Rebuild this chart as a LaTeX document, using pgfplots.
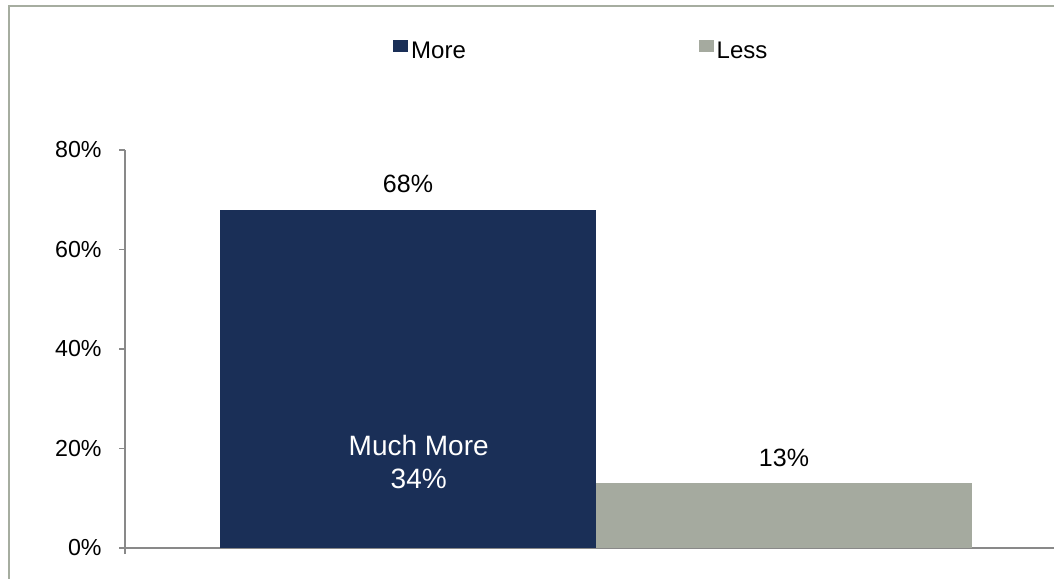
\documentclass[border=0pt]{standalone}
\usepackage{pgfplots}
\pgfplotsset{compat=1.18}
\usepackage{fontspec}
\setmainfont{Liberation Sans}
\definecolor{navy}{RGB}{26,47,87}
\definecolor{sage}{RGB}{165,170,159}
\definecolor{axisgray}{RGB}{137,137,137}
\definecolor{framegray}{RGB}{166,173,160}
\pgfplotsset{sqlegend/.style={legend image code/.code={\fill[##1] (0pt,0.2pt) rectangle (7.3pt,6.3pt);}}}
\begin{document}
\begin{tikzpicture}
\useasboundingbox (0,0) rectangle (527pt,289pt);
\fill[white] (0,0) rectangle (527pt,289pt);
\draw[framegray, line width=1.1pt] (4.6pt,-2pt) -- (4.6pt,286.1pt) -- (530pt,286.1pt);
\begin{axis}[
  at={(62.5pt,15pt)}, anchor=south west,
  scale only axis, width=464.5pt, height=199pt,
  xmin=125, xmax=1054, ymin=0, ymax=80,
  clip=false,
  /pgf/number format/assume math mode=true,
  axis x line=bottom, axis y line=left,
  axis line style={-, axisgray, line width=0.9pt},
  xtick={125}, xticklabels={},
  ytick={0,20,40,60,80},
  yticklabels={0\%,20\%,40\%,60\%,80\%},
  tick align=outside, major tick length=3pt,
  tick style={axisgray, line width=0.8pt},
  yticklabel style={font=\fontsize{11.6}{13}\selectfont, inner sep=0pt, anchor=east, xshift=-8.5pt},
  legend style={at={(axis description cs:0.2885,1.2495)}, anchor=west, draw=none, fill=none, inner sep=0pt,
    font=\fontsize{12}{14}\selectfont, nodes={inner sep=0pt},
    /tikz/every even column/.append style={column sep=116.5pt},
    /tikz/every odd column/.append style={column sep=1.6pt}},
  legend columns=2,
]
\addplot[ybar, bar width=376, bar shift=0pt, fill=navy, draw=none, sqlegend,
  nodes near coords={\pgfmathprintnumber{\pgfplotspointmeta}\%},
  nodes near coords style={anchor=base, yshift=8.7pt, text=black, font=\fontsize{12.5}{14}\selectfont}]
  coordinates {(408,68)};
\addlegendentry{More}
\addplot[ybar, bar width=376, bar shift=0pt, fill=sage, draw=none, sqlegend,
  nodes near coords={\pgfmathprintnumber{\pgfplotspointmeta}\%},
  nodes near coords style={anchor=base, yshift=8.4pt, text=black, font=\fontsize{12.5}{14}\selectfont}]
  coordinates {(784,13)};
\addlegendentry{Less}
\node[anchor=base, text=white, font=\fontsize{14}{16}\selectfont, inner sep=0pt] at (axis cs:418.7,18.69) {Much More};
\node[anchor=base, text=white, font=\fontsize{14}{16}\selectfont, inner sep=0pt] at (axis cs:418.7,12.0) {34\%};
\end{axis}
\end{tikzpicture}
\end{document}
